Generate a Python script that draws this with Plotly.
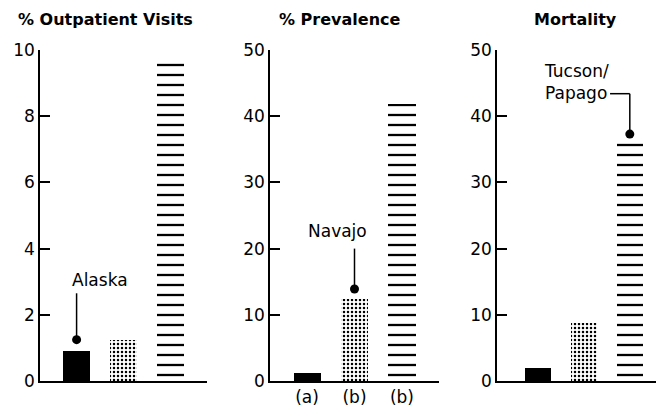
import plotly.graph_objects as go

# ---- data ----
panel_titles = ["% Outpatient Visits", "% Prevalence", "Mortality"]
bar_positions = [0, 1, 2]
outpatient_values = [0.92, 1.25, 9.6]
prevalence_values = [1.2, 12.4, 41.9]
mortality_values = [1.9, 8.8, 35.9]
panel_y_max = [10, 50, 50]
panel_y_ticks = [[0, 2, 4, 6, 8, 10], [0, 10, 20, 30, 40, 50], [0, 10, 20, 30, 40, 50]]
prevalence_tick_labels = ["(a)", "(b)", "(b)"]

# pointer annotations: label, bar index of dot, dot value, line top value, label pos
callout_labels = ["Alaska", "Navajo", "Tucson/<br>Papago"]
callout_dot_x = [0, 1, 2]
callout_dot_y = [1.25, 13.9, 37.3]
callout_line_top = [2.65, 20.0, 43.4]
callout_label_x = [0.5, 0.65, 0.09]
callout_label_y = [3.06, 22.7, 45.2]

W, H = 656, 407
FONT = "DejaVu Sans, Verdana, sans-serif"

# layout geometry (pixels)
x_domains_px = [(40, 207), (270, 439), (497, 656)]
x_ranges = [[-0.78, 2.78], [-0.78, 2.78], [-0.89, 2.57]]
y_bottom_px, y_top_px = 381, 50
bar_width = 0.57

fills = [
    dict(color="black"),
    dict(color="white", pattern=dict(shape=".", size=4, solidity=0.3, fgcolor="black", bgcolor="white", fillmode="replace")),
    dict(color="white", pattern=dict(shape="-", size=10, solidity=0.23, fgcolor="black", bgcolor="white", fillmode="replace")),
]

fig = go.Figure()
all_values = [outpatient_values, prevalence_values, mortality_values]

for p in range(3):
    xa = "x" if p == 0 else f"x{p+1}"
    ya = "y" if p == 0 else f"y{p+1}"
    for i in range(3):
        fig.add_trace(go.Bar(
            x=[bar_positions[i]], y=[all_values[p][i]], width=bar_width,
            marker=dict(**fills[i], line=dict(width=0)),
            xaxis=xa, yaxis=ya, showlegend=False, hoverinfo="skip",
        ))
    # callout dot
    fig.add_trace(go.Scatter(
        x=[callout_dot_x[p]], y=[callout_dot_y[p]], mode="markers",
        marker=dict(color="black", size=9), xaxis=xa, yaxis=ya,
        showlegend=False, hoverinfo="skip",
    ))
    fig.add_shape(type="line", xref=xa, yref=ya,
                  x0=callout_dot_x[p], x1=callout_dot_x[p],
                  y0=callout_dot_y[p], y1=callout_line_top[p],
                  line=dict(color="black", width=1.5))

# Tucson/Papago horizontal leader
fig.add_shape(type="line", xref="x3", yref="y3",
              x0=1.57, x1=callout_dot_x[2], y0=callout_line_top[2], y1=callout_line_top[2],
              line=dict(color="black", width=1.5))

layout = dict(
    width=W, height=H, margin=dict(l=0, r=0, t=0, b=0, autoexpand=False),
    paper_bgcolor="white", plot_bgcolor="white", bargap=0,
    font=dict(family=FONT, color="black", size=17),
)
ydom = [(H - y_bottom_px) / H, (H - y_top_px) / H]
for p in range(3):
    sx = "" if p == 0 else str(p + 1)
    layout["xaxis" + sx] = dict(
        domain=[x_domains_px[p][0] / W, x_domains_px[p][1] / W],
        range=x_ranges[p], anchor="y" + sx, automargin=False,
        showline=True, linecolor="black", linewidth=1.5,
        showgrid=False, zeroline=False, ticks="",
        showticklabels=(p == 1),
        tickmode="array", tickvals=bar_positions,
        ticktext=prevalence_tick_labels if p == 1 else ["", "", ""],
        tickfont=dict(size=17),
    )
    layout["yaxis" + sx] = dict(
        domain=ydom, range=[0, panel_y_max[p]], anchor="x" + sx, automargin=False,
        showline=True, linecolor="black", linewidth=1.5,
        showgrid=False, zeroline=False,
        ticks="inside", ticklen=10, tickwidth=1.5, tickcolor="black",
        tickmode="array", tickvals=panel_y_ticks[p],
        tickfont=dict(size=17),
    )
fig.update_layout(**layout)

# callout labels
for p in range(3):
    xa = "x" if p == 0 else f"x{p+1}"
    ya = "y" if p == 0 else f"y{p+1}"
    fig.add_annotation(
        x=callout_label_x[p], y=callout_label_y[p], xref=xa, yref=ya,
        text=callout_labels[p], showarrow=False,
        xanchor="left" if p == 2 else "center", align="left",
        font=dict(size=17),
    )

# panel titles
title_x_px = [105, 340, 575]
for p in range(3):
    fig.add_annotation(
        x=title_x_px[p] / W, y=(H - 20) / H, xref="paper", yref="paper",
        text="<b>" + panel_titles[p] + "</b>", showarrow=False,
        xanchor="center", yanchor="middle", font=dict(size=16),
    )

fig.write_html("out.html", config={"displayModeBar": False},
               post_script="document.body.style.margin='0';document.body.style.overflow='hidden';")
